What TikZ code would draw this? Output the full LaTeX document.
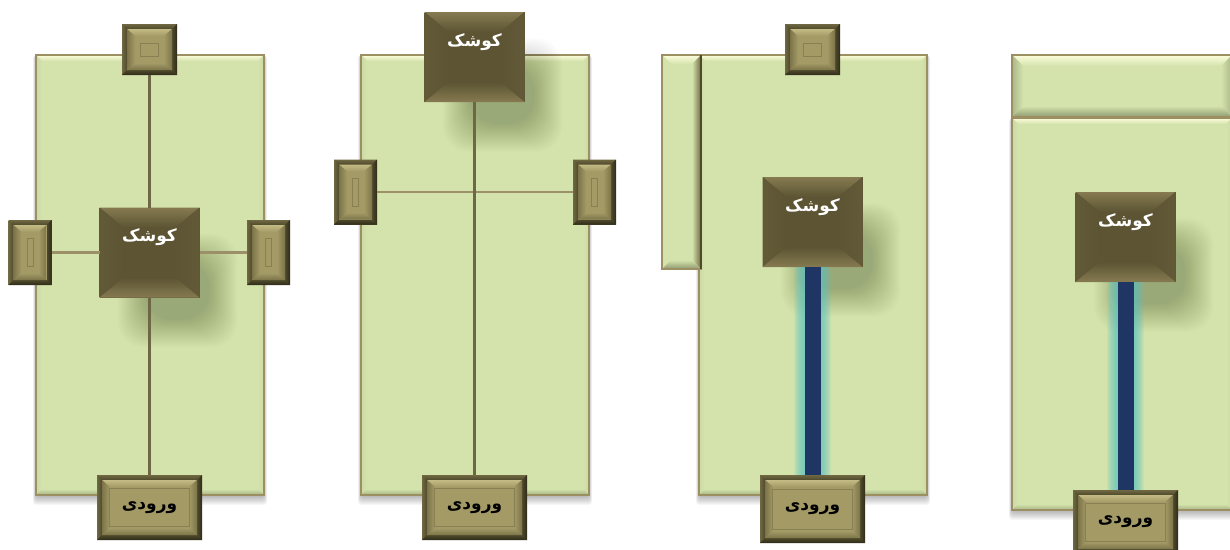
\documentclass[tikz,border=0pt]{standalone}
\usepackage{fontspec}
\newfontfamily\arabicfont[Script=Arabic]{DejaVu Sans}
\TeXXeTstate=1
\usetikzlibrary{positioning}
\usetikzlibrary{calc}
\definecolor{lawn}{HTML}{D4E3AC}
\definecolor{lawnedge}{HTML}{9C8F62}
\definecolor{lawnlight}{HTML}{FDFDDC}
\definecolor{lawndark}{HTML}{8F9A70}
\definecolor{roofmid}{HTML}{5C5433}
\definecolor{rooflight}{HTML}{857A50}
\definecolor{stone}{HTML}{A39A66}
\definecolor{stonelight}{HTML}{C4BA84}
\definecolor{stonedark}{HTML}{7C7449}
\definecolor{frame}{HTML}{4F4A2C}
\definecolor{framedark}{HTML}{2E2B18}
\definecolor{framelight}{HTML}{6F6842}
\definecolor{pathbrown}{HTML}{6E6644}
\definecolor{pathtan}{HTML}{9C9068}
\definecolor{canal}{HTML}{1F3564}
\definecolor{canalglow}{HTML}{5CC4C4}
\tikzset{
  every node/.style={inner sep=0pt,outer sep=0pt},
  lawnbox/.style={fill=lawn},
  lawnrim/.style={draw=lawnedge,line width=2pt},
  kioskbox/.style={fill=roofmid,minimum width=100pt,minimum height=90pt},
  kiosktext/.style={text=white,font=\arabicfont\bfseries\fontsize{17}{19}\selectfont},
  gateouter/.style={fill=frame},
  gateface/.style={fill=stone},
  gateinner/.style={draw=stonedark!70!stone,line width=0.7pt,fill=stone,font=\arabicfont\bfseries\fontsize{17}{19}\selectfont},
  pathmain/.style={draw=pathbrown,line width=2.2pt},
  pathcross/.style={draw=pathtan,line width=2.2pt},
  canalline/.style={draw=canal,line width=16pt},
  glowline/.style={draw=canalglow,opacity=0.11}
}
\newcommand{\bevel}[7]{%
  \coordinate (#1-nw) at ($(#1.north west)+(#2,#3)$);
  \coordinate (#1-ne) at ($(#1.north east)+(-#2,#3)$);
  \coordinate (#1-sw) at ($(#1.south west)+(#2,-#3)$);
  \coordinate (#1-se) at ($(#1.south east)+(-#2,-#3)$);
  \shade[#4] (#1.north west)--(#1.north east)--(#1-ne)--(#1-nw)--cycle;
  \shade[#5] (#1.north west)--(#1.south west)--(#1-sw)--(#1-nw)--cycle;
  \shade[#6] (#1.north east)--(#1.south east)--(#1-se)--(#1-ne)--cycle;
  \shade[#7] (#1.south west)--(#1.south east)--(#1-se)--(#1-sw)--cycle;
}
\newcommand{\softblob}[2]{%
  \foreach \s in {0,1,...,28}
    \fill[black,opacity=0.0095,rounded corners=26pt]
      ({#1+28-60+\s},{#2+38-57+\s}) rectangle ({#1+28+60-\s},{#2+38+57-\s});
}
\newcommand{\softedge}[4]{%
  \foreach \s in {0,1,...,8}
    \fill[black,opacity=0.03,rounded corners=3pt]
      ({#1-3+\s/3},{#2}) rectangle ({#3+3-\s/3},{#4+10-\s});
}
\newcommand{\lawn}[6]{%
  \softedge{#2}{#3}{#4}{#5}
  \node[lawnbox,minimum width=#4-#2,minimum height=#5-#3] (#1) at ({(#2+#4)/2},{(#3+#5)/2}) {};
  \bevel{#1}{#6}{#6}{top color=lawnlight,bottom color=lawn}{left color=lawndark!12!lawn,right color=lawn}{left color=lawn,right color=lawndark!12!lawn}{top color=lawn,bottom color=lawndark!70!lawn}
  \draw[lawnrim] (#1.north west) rectangle (#1.south east);
}
\newcommand{\kiosk}[3]{%
  \node[kioskbox] (#1) at (#2,#3) {};
  \bevel{#1}{24}{20}{top color=rooflight,bottom color=roofmid}{left color=roofmid!85!rooflight,right color=roofmid}{left color=roofmid,right color=roofmid!85!rooflight}{top color=roofmid,bottom color=rooflight}
  \node[kiosktext] (#1-name) at ($(#1.center)+(0,-15)$) {\beginR کوشک\endR};
}
\newcommand{\gatebox}[8]{%
  \node[gateouter,minimum width=#4,minimum height=#5] (#1) at (#2,#3) {};
  \bevel{#1}{5}{5}{top color=framelight,bottom color=frame}{left color=framelight,right color=frame}{left color=frame,right color=framedark}{top color=frame,bottom color=framedark}
  \node[gateface,minimum width=#4-10,minimum height=#5-10] (#1-face) at (#2,#3) {};
  \bevel{#1-face}{8}{7}{top color=stonelight,bottom color=stone}{left color=stonedark,right color=stone}{left color=stone,right color=stonedark}{top color=stone,bottom color=stonedark}
  \node[gateinner,minimum width=#6,minimum height=#7] (#1-inner) at (#2,#3) {#8};
}
\begin{document}
\begin{tikzpicture}[x=1pt,y=-1pt]
\path[use as bounding box,clip] (0,0) rectangle (1230,549);
\fill[white] (0,0) rectangle (1230,549);
\lawn{lawnA}{36}{55}{264}{495}{6}
\softblob{149.5}{252.5}
\kiosk{kioskA}{149.5}{252.5}
\gatebox{topA}{149.5}{49.5}{55}{51}{18}{13}{}
\gatebox{leftA}{30}{252.5}{43}{65}{6}{28}{}
\gatebox{rightA}{268.5}{252.5}{43}{65}{6}{28}{}
\gatebox{entryA}{149.5}{507.5}{105}{65}{80}{38}{\beginR ورودی\endR}
\draw[pathmain] (topA) -- (kioskA);
\draw[pathmain] (kioskA) -- (entryA);
\draw[pathcross] (leftA) -- (kioskA);
\draw[pathcross] (kioskA) -- (rightA);
\lawn{lawnB}{361}{55}{589}{495}{6}
\softblob{474.5}{57}
\kiosk{kioskB}{474.5}{57}
\gatebox{leftB}{355.5}{192}{43}{65}{6}{28}{}
\gatebox{rightB}{594.5}{192}{43}{65}{6}{28}{}
\gatebox{entryB}{474.5}{507.5}{105}{65}{80}{38}{\beginR ورودی\endR}
\draw[pathcross] (leftB) -- (rightB);
\draw[pathmain] (kioskB) -- (entryB);
\lawn{lawnC}{699}{55}{927}{495}{6}
\node[lawnbox,minimum width=39pt,minimum height=214pt] (stripC) at (681.5,162) {};
\bevel{stripC}{9}{9}{top color=lawnlight,bottom color=lawn}{left color=lawn,right color=lawn}{left color=lawn,right color=framelight}{top color=lawn,bottom color=lawndark}
\draw[lawnrim] (stripC.north west) rectangle (stripC.south east);
\draw[frame,line width=2.4pt] (stripC.north east) -- (stripC.south east);
\softblob{812.5}{222}
\kiosk{kioskC}{812.5}{222}
\gatebox{topC}{812.5}{49.5}{55}{51}{18}{13}{}
\gatebox{entryC}{812.5}{509}{105}{68}{80}{40}{\beginR ورودی\endR}
\foreach \w in {37,35,...,17}
  \draw[glowline,line width=\w pt] (kioskC) -- (entryC);
\draw[canalline] (kioskC) -- (entryC);
\lawn{lawnD}{1012}{118}{1232}{510}{6}
\node[lawnbox,minimum width=220pt,minimum height=62pt] (stripD) at (1122,86) {};
\bevel{stripD}{11}{11}{top color=lawnlight,bottom color=lawn}{left color=lawndark!60!lawn,right color=lawn}{left color=lawn,right color=lawndark!60!lawn}{top color=lawn,bottom color=lawndark}
\draw[lawnrim] (stripD.north west) rectangle (stripD.south east);
\softblob{1125.5}{237}
\kiosk{kioskD}{1125.5}{237}
\gatebox{entryD}{1125.5}{522}{105}{64}{80}{38}{\beginR ورودی\endR}
\foreach \w in {37,35,...,17}
  \draw[glowline,line width=\w pt] (kioskD) -- (entryD);
\draw[canalline] (kioskD) -- (entryD);
\end{tikzpicture}
\end{document}
